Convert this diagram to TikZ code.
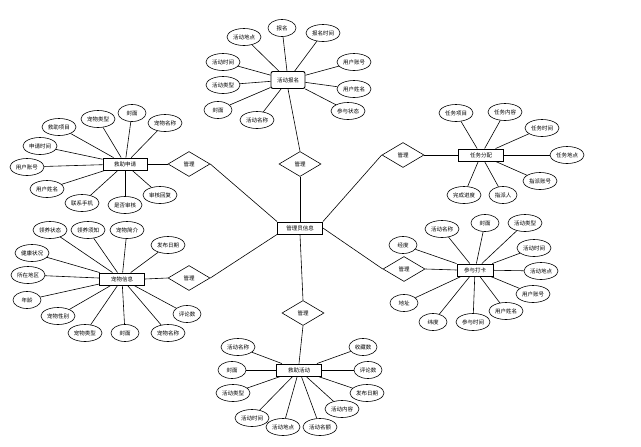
\documentclass[tikz,border=0pt]{standalone}
\usepackage{fontspec}
\setmainfont{Noto Sans CJK SC}
\usetikzlibrary{shapes.geometric}
\begin{document}
\begin{tikzpicture}[x=1pt,y=-1pt,
 txt/.style={font=\fontsize{5.5}{6}\selectfont},
 attr/.style={ellipse,draw,line width=0.6pt,minimum width=34pt,minimum height=17pt,inner sep=0pt,txt},
 attrs/.style={attr,minimum width=28pt},
 ent/.style={rectangle,draw,line width=0.9pt,minimum width=45pt,minimum height=12pt,inner sep=0pt,txt},
 rel/.style={diamond,draw,line width=0.6pt,minimum width=42pt,minimum height=25pt,inner sep=0pt,txt},
 conn/.style={line width=0.6pt}]
\fill[white] (0,0) rectangle (641,447);
\useasboundingbox (0,0) rectangle (641,447);

% center
\node[ent] (c) at (300,228) {管理员信息};
% relations
\node[rel] (rt) at (300,164) {管理};
\node[rel] (rlt) at (189,164) {管理};
\node[rel] (rlb) at (189,278) {管理};
\node[rel] (rrt) at (403,155) {管理};
\node[rel] (rrb) at (404,269) {管理};
\node[rel] (rb) at (303,313) {管理};

\draw[conn] (rt.south) -- (c.north);
\draw[conn] (rlt.east) -- (c.north west);
\draw[conn] (rlb.east) -- (c.south west);
\draw[conn] (c.north east) -- (rrt.west);
\draw[conn] (c.east) -- (rrb.west);
\draw[conn] (c.south) -- (rb.north);

% top entity
\node[ent,rounded corners=2pt,minimum width=34pt,minimum height=17pt] (et) at (288,80) {活动报名};
\draw[conn] (et.south) -- (rt.north);
\node[attr] (t1) at (244,37) {活动地点};
\node[attrs] (t2) at (282,28) {报名};
\node[attr] (t3) at (323,33) {报名时间};
\node[attr] (t4) at (354,62) {用户账号};
\node[attr] (t5) at (354,89) {用户姓名};
\node[attr] (t6) at (348,111) {参与状态};
\node[attr] (t7) at (223,62) {活动时间};
\node[attr] (t8) at (223,85) {活动类型};
\node[attrs] (t9) at (218,110) {封面};
\node[attr] (t10) at (257,120) {活动名称};
\foreach \a in {t1,t2,t3,t4,t5,t6,t7,t8,t9,t10} \draw[conn] (et) -- (\a);

% left-top entity
\node[ent,minimum width=44pt] (elt) at (125,164) {救助申请};
\draw[conn] (elt.east) -- (rlt.west);
\node[attr] (a1) at (59,127) {救助项目};
\node[attr] (a2) at (98,119) {宠物类型};
\node[attrs] (a3) at (132,113) {封面};
\node[attr] (a4) at (165,123) {宠物名称};
\node[attr] (a5) at (40,146) {申请时间};
\node[attr] (a6) at (27,167) {用户账号};
\node[attr] (a7) at (47,189) {用户姓名};
\node[attr] (a8) at (82,203) {联系手机};
\node[attr] (a9) at (125,205) {是否审核};
\node[attr] (a10) at (160,195) {审核回复};
\foreach \a in {a1,a2,a3,a4,a5,a6,a7,a8,a9,a10} \draw[conn] (elt) -- (\a);

% right-top entity
\node[ent] (ert) at (481,155) {任务分配};
\draw[conn] (rrt.east) -- (ert.west);
\node[attr] (b1) at (456,113) {任务项目};
\node[attr] (b2) at (505,112) {任务内容};
\node[attr] (b3) at (542,128) {任务时间};
\node[attr] (b4) at (567,155) {任务地点};
\node[attr] (b5) at (540,181) {指派账号};
\node[attrs] (b6) at (503,195) {指派人};
\node[attr] (b7) at (464,195) {完成进度};
\foreach \a in {b1,b2,b3,b4,b5,b6,b7} \draw[conn] (ert) -- (\a);

% right-bottom entity
\node[ent,minimum width=36pt] (erb) at (475,270) {参与打卡};
\draw[conn] (rrb.east) -- (erb.west);
\node[attr] (d1) at (442,229) {活动名称};
\node[attrs] (d2) at (485,223) {封面};
\node[attr] (d3) at (525,223) {活动类型};
\node[attr] (d4) at (534,248) {活动时间};
\node[attr] (d5) at (541,271) {活动地点};
\node[attr] (d6) at (533,294) {用户账号};
\node[attr] (d7) at (506,311) {用户姓名};
\node[attr] (d8) at (473,322) {参与时间};
\node[attrs] (d9) at (433,322) {纬度};
\node[attrs] (d10) at (404,303) {地址};
\node[attrs] (d11) at (403,245) {经度};
\foreach \a in {d1,d2,d3,d4,d5,d6,d7,d8,d9,d10,d11} \draw[conn] (erb) -- (\a);

% left-bottom entity
\node[ent] (elb) at (122,279) {宠物信息};
\draw[conn] (elb.east) -- (rlb.west);
\node[attr] (e1) at (50,230) {领养状态};
\node[attr] (e2) at (88,230) {领养须知};
\node[attr] (e3) at (127,230) {宠物简介};
\node[attr] (e4) at (168,245) {发布日期};
\node[attr] (e5) at (32,253) {健康状况};
\node[attr] (e6) at (28,275) {所在地区};
\node[attrs] (e7) at (27,300) {年龄};
\node[attr] (e8) at (58,316) {宠物性别};
\node[attr] (e9) at (85,333) {宠物类型};
\node[attrs] (e10) at (125,333) {封面};
\node[attr] (e11) at (168,333) {宠物名称};
\node[attrs] (e12) at (187,314) {评论数};
\foreach \a in {e1,e2,e3,e4,e5,e6,e7,e8,e9,e10,e11,e12} \draw[conn] (elb) -- (\a);

% bottom entity
\node[ent] (eb) at (299,370) {救助活动};
\draw[conn] (rb.south) -- (eb.north);
\node[attr] (f1) at (238,347) {活动名称};
\node[attrs] (f2) at (232,370) {封面};
\node[attr] (f3) at (233,393) {活动类型};
\node[attr] (f4) at (252,418) {活动时间};
\node[attr] (f5) at (283,427) {活动地点};
\node[attr] (f6) at (320,427) {活动名额};
\node[attr] (f7) at (342,409) {活动内容};
\node[attr] (f8) at (367,393) {发布日期};
\node[attrs] (f9) at (368,370) {评论数};
\node[attrs] (f10) at (363,347) {收藏数};
\foreach \a in {f1,f2,f3,f4,f5,f6,f7,f8,f9,f10} \draw[conn] (eb) -- (\a);
\end{tikzpicture}
\end{document}
